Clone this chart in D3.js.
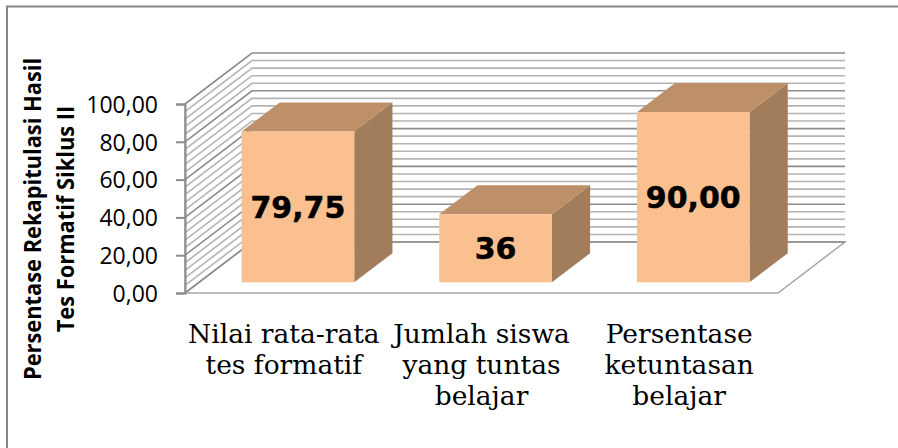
<!DOCTYPE html>
<html>
<head>
<meta charset="utf-8">
<script src="https://cdn.jsdelivr.net/npm/d3@7"></script>
<style>
html, body { margin: 0; padding: 0; background: #fff; overflow: hidden; }
svg { display: block; }
.tick-label { font-family: "Open Sans", sans-serif; font-size: 23px; fill: #000; }
.cat-label { font-family: "DejaVu Serif", serif; font-size: 26.5px; fill: #000; }
.val-label { font-family: "DejaVu Sans", sans-serif; font-weight: bold; font-size: 30px; fill: #000; stroke: #000; stroke-width: 0.5px; }
.y-title { font-family: "Open Sans", sans-serif; font-weight: bold; font-size: 24px; fill: #000; }
</style>
</head>
<body>
<div id="chart"></div>
<script>
const width = 898;
const height = 448;

const categories = ["Nilai rata-rata tes formatif", "Jumlah siswa yang tuntas belajar", "Persentase ketuntasan belajar"];
const categoryLines = [
    ["Nilai rata-rata", "tes formatif"],
    ["Jumlah siswa", "yang tuntas", "belajar"],
    ["Persentase", "ketuntasan", "belajar"]
];
const values = [79.75, 36, 90];
const valueLabels = ["79,75", "36", "90,00"];
const yTitleLines = ["Persentase Rekapitulasi Hasil", "Tes Formatif Siklus II"];

// front plane of the 3d box, and how far the back wall is shifted from it
const plot = { left: 185, right: 778, top: 104, bottom: 293 };
const wall = { dx: 67, dy: -51 };
// bars stand between these two fractions of the floor depth
const depthStart = 0.21;
const depthEnd = 0.78;

const svg = d3.select("#chart")
    .append("svg")
    .attr("width", width)
    .attr("height", height);

const x = d3.scaleBand()
    .domain(categories)
    .range([plot.left, plot.right])
    .paddingInner(0.43)
    .paddingOuter(0.215);

const y = d3.scaleLinear()
    .domain([0, 100])
    .range([plot.bottom, plot.top]);

const fmt = v => d3.format(".2f")(v).replace(".", ",");

// chart frame, only top and left show in the picture
svg.append("path")
    .attr("d", `M7,${height}V6.5H${width}`)
    .attr("fill", "none")
    .attr("stroke", "#868686")
    .attr("stroke-width", 2);

// floor
svg.append("path")
    .attr("d", d3.line()([
        [plot.left, plot.bottom],
        [plot.right, plot.bottom],
        [plot.right + wall.dx, plot.bottom + wall.dy],
        [plot.left + wall.dx, plot.bottom + wall.dy]
    ]) + "Z")
    .attr("fill", "#fff")
    .attr("stroke", "#a6a6a6")
    .attr("stroke-width", 1.5);

// gridlines on side wall and back wall, minor every 4 and major every 20
const minorTicks = d3.range(0, 101, 4);
const majorTicks = d3.range(0, 101, 20);

svg.append("g").selectAll("path")
    .data(minorTicks)
    .join("path")
    .attr("d", d => `M${plot.left},${y(d)}L${plot.left + wall.dx},${y(d) + wall.dy}H${plot.right + wall.dx}`)
    .attr("fill", "none")
    .attr("stroke", d => majorTicks.includes(d) ? "#8c8c8c" : "#b4b4b4")
    .attr("stroke-width", 1.6);

// side wall edge
svg.append("path")
    .attr("d", `M${plot.left},${y(0)}V${y(100)}`)
    .attr("stroke", "#a6a6a6")
    .attr("stroke-width", 1.5);

// y axis
const yAxis = svg.append("g")
    .attr("transform", `translate(${plot.left},0)`)
    .call(d3.axisLeft(y).tickValues(majorTicks).tickSize(9).tickPadding(18).tickFormat(fmt));
yAxis.select(".domain").attr("stroke", "#8c8c8c").attr("stroke-width", 2);
yAxis.selectAll(".tick line").attr("stroke", "#8c8c8c").attr("stroke-width", 2);
yAxis.selectAll(".tick text").attr("class", "tick-label").attr("dy", "0.36em");

// bars
const bars = svg.append("g").selectAll("g")
    .data(categories.map((c, i) => ({ c, v: values[i], label: valueLabels[i] })))
    .join("g");

const sx = wall.dx * depthStart, sy = wall.dy * depthStart;
const bx = wall.dx * (depthEnd - depthStart), by = wall.dy * (depthEnd - depthStart);

bars.append("path")
    .attr("fill", "#a27d5c")
    .attr("d", d => {
        const x1 = x(d.c) + sx + x.bandwidth(), y0 = y(0) + sy, y1 = y(d.v) + sy;
        return `M${x1},${y0}L${x1 + bx},${y0 + by}V${y1 + by}L${x1},${y1}Z`;
    });

bars.append("path")
    .attr("fill", "#be9069")
    .attr("d", d => {
        const x0 = x(d.c) + sx, x1 = x0 + x.bandwidth(), y1 = y(d.v) + sy;
        return `M${x0},${y1}L${x0 + bx},${y1 + by}H${x1 + bx}L${x1},${y1}Z`;
    });

bars.append("rect")
    .attr("fill", "#fac090")
    .attr("x", d => x(d.c) + sx)
    .attr("y", d => y(d.v) + sy)
    .attr("width", x.bandwidth())
    .attr("height", d => y(0) - y(d.v));

bars.append("text")
    .attr("class", "val-label")
    .attr("text-anchor", "middle")
    .attr("x", d => x(d.c) + sx + x.bandwidth() / 2)
    .attr("y", d => (y(d.v) + y(0)) / 2 + sy + 11)
    .text(d => d.label);

// category labels
svg.append("g").selectAll("text")
    .data(categories)
    .join("text")
    .attr("class", "cat-label")
    .attr("text-anchor", "middle")
    .attr("transform", d => `translate(${x(d) + x.bandwidth() / 2},0)`)
    .each(function (d, i) {
        d3.select(this).selectAll("tspan")
            .data(categoryLines[i])
            .join("tspan")
            .attr("x", 0)
            .attr("y", (t, j) => 343 + j * 31)
            .text(t => t);
    });

// y title, narrowed along its length like the stretched original
svg.append("g").selectAll("text")
    .data(yTitleLines)
    .join("text")
    .attr("class", "y-title")
    .attr("text-anchor", "middle")
    .attr("transform", (d, i) => `translate(${41 + i * 33},219) rotate(-90) scale(0.91,1)`)
    .text(d => d);
</script>
</body>
</html>
